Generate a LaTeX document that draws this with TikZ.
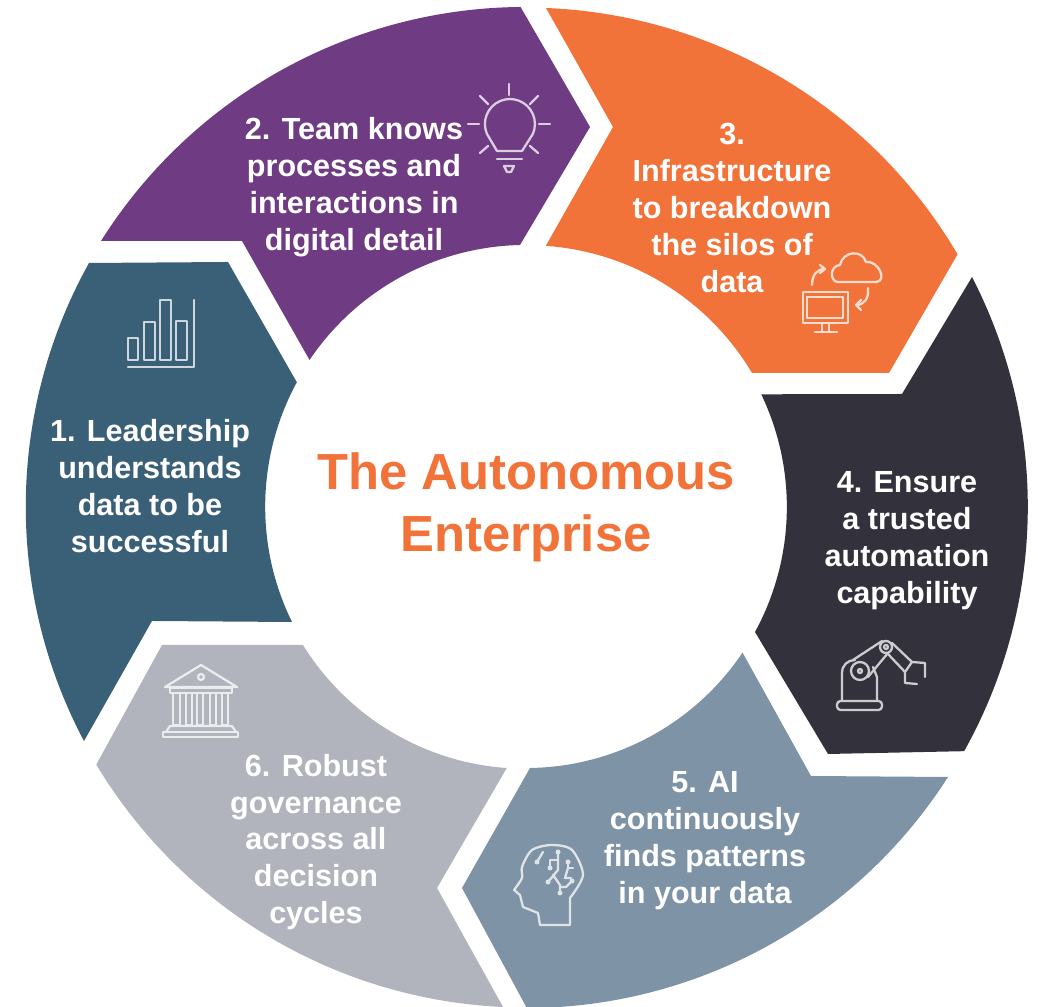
\documentclass[tikz,border=0pt]{standalone}
\usepackage{fontspec}
\setmainfont{Liberation Sans}
\usepackage{tikz}

\definecolor{leadblue}{HTML}{3A6078}
\definecolor{teampurple}{HTML}{6F3B82}
\definecolor{infraorange}{HTML}{F2733A}
\definecolor{trustdark}{HTML}{33323C}
\definecolor{aislate}{HTML}{7E93A5}
\definecolor{govgrey}{HTML}{B1B3BD}

\tikzset{
    segtext/.style={text=white, align=center, font=\fontsize{17.4}{21}\selectfont\bfseries},
    titletext/.style={text=infraorange, align=center, font=\fontsize{28.9}{35.3}\selectfont\bfseries},
    icon/.style={draw=white!75!#1, line width=1.3pt, line join=round, line cap=round},
    dot/.style={fill=white!75!aislate, draw=none}
}

\begin{document}
\begin{tikzpicture}[x=0.02cm,y=0.02cm]
        \useasboundingbox (0,0) rectangle (1038,1007);

        % the six ring segments
        \fill[leadblue] (89,744) arc[start angle=150.9,end angle=207.9,radius=501] -- (152,386) -- (292,385)
            arc[start angle=206.2,end angle=151.5,radius=261] -- (228,745) -- cycle;
        \fill[teampurple] (101,766) arc[start angle=147.8,end angle=90.5,radius=501] -- (590,880) -- (520,762)
            arc[start angle=91.3,end angle=146,radius=261] -- (242,766) -- cycle;
        \fill[infraorange] (546,999) arc[start angle=87.7,end angle=30.5,radius=501] -- (889,634) -- (752,634)
            arc[start angle=30.7,end angle=86,radius=261] -- (613,880) -- cycle;
        \fill[trustdark] (972,730) arc[start angle=27.3,end angle=-29.2,radius=501] -- (828,253) -- (755,375)
            arc[start angle=-28.6,end angle=25.6,radius=261] -- (902,613) -- cycle;
        \fill[aislate] (948,230) arc[start angle=-32.6,end angle=-89.9,radius=501] -- (462,119) -- (530,239)
            arc[start angle=-89.1,end angle=-33.9,radius=261] -- (811,231) -- cycle;
        \fill[govgrey] (503,0) arc[start angle=267.4,end angle=211,radius=501] -- (162,362) -- (303,362)
            arc[start angle=211.75,end angle=266,radius=261] -- (437,119) -- cycle;

        % labels
        \node[titletext] (title) at (526,500) {The Autonomous\\Enterprise};
        \node[segtext] (leadership) at (150,521) {1. Leadership\\understands\\data to be\\successful};
        \node[segtext] (team) at (354,820) {2. Team knows\\processes and\\interactions in\\digital detail};
        \node[segtext] (infra) at (732,799) {3.\\Infrastructure\\to breakdown\\the silos of\\data};
        \node[segtext] (trusted) at (907,466) {4. Ensure\\a trusted\\automation\\capability};
        \node[segtext] (patterns) at (705,166) {5. AI\\continuously\\finds patterns\\in your data};
        \node[segtext] (governance) at (316,165) {6. Robust\\governance\\across all\\decision\\cycles};

        % bars
        \draw[icon=leadblue] (128,647) rectangle (138,669);
        \draw[icon=leadblue] (144,647) rectangle (155,685);
        \draw[icon=leadblue] (160,647) rectangle (171,707);
        \draw[icon=leadblue] (176,647) rectangle (187,686);
        \draw[icon=leadblue] (194,707) -- (194,640) -- (128,640);

        % bulb
        \draw[icon=teampurple] (497,856) -- (487,873) arc[start angle=203.5,end angle=-23.5,radius=25] -- (522,856) -- cycle;
        \draw[icon=teampurple] (509,923) -- (509,912);
        \draw[icon=teampurple] (480,911) -- (488,903);
        \draw[icon=teampurple] (538,911) -- (530,903);
        \draw[icon=teampurple] (468,883) -- (479,883);
        \draw[icon=teampurple] (539,883) -- (550,883);
        \draw[icon=teampurple] (480,854) -- (488,861);
        \draw[icon=teampurple] (538,854) -- (530,861);
        \draw[icon=teampurple] (497,848) -- (522,848);
        \draw[icon=teampurple] (504,841) -- (514,841) -- (511,835) -- (507,835) -- cycle;

        % cloud and monitor
        \draw[icon=infraorange] (803,684) rectangle (848,715);
        \draw[icon=infraorange] (807,689) rectangle (843,710);
        \draw[icon=infraorange] (822,684) -- (822,675);
        \draw[icon=infraorange] (829,684) -- (829,675);
        \draw[icon=infraorange] (815,675) -- (837,675);
        \draw[icon=infraorange] (838,725) .. controls (830,725) and (829,741) .. (840,742)
            .. controls (843,756) and (862,758) .. (866,745)
            .. controls (878,747) and (888,726) .. (876,725) -- cycle;
        \draw[icon=infraorange] (812,722) .. controls (812,732) and (817,738) .. (825,738);
        \draw[icon=infraorange] (820,742) -- (825,738) -- (820,734);
        \draw[icon=infraorange] (868,719) .. controls (869,708) and (864,702) .. (856,702);
        \draw[icon=infraorange] (861,707) -- (856,702) -- (861,697);

        % robot arm
        \draw[icon=trustdark, rounded corners=2] (837,297) rectangle (882,306);
        \draw[icon=trustdark] (842,306) -- (842,334) .. controls (842,342) and (848,347) .. (855,347);
        \draw[icon=trustdark] (877,306) -- (877,330) -- (873,340);
        \draw[icon=trustdark] (860,336) circle (9);
        \draw[icon=trustdark] (860,336) circle (2);
        \draw[icon=trustdark] (886,360) circle (6);
        \draw[icon=trustdark] (886,360) circle (2);
        \draw[icon=trustdark] (853,347) -- (882,366);
        \draw[icon=trustdark] (868,330) -- (888,354);
        \draw[icon=trustdark] (892,364) -- (912,345) -- (925,344) -- (925,330);
        \draw[icon=trustdark] (888,353) -- (905,335) -- (905,324) -- (917,323);
        \draw[icon=trustdark] (912,345) -- (905,335);

        % head
        \draw[icon=aislate] plot[smooth] coordinates {(570,109) (583,132) (572,157) (552,162) (532,157) (522,140) (522,129) (514,117)}
            -- (520,112) -- (523,100) -- (538,94) -- (540,82) -- (570,82) -- cycle;
        \draw[icon=aislate] (537,145) -- (543,155);
        \draw[icon=aislate] (558,155) -- (558,137) -- (548,125);
        \draw[icon=aislate] (558,147) -- (550,147) -- (550,139);
        \draw[icon=aislate] (553,132) -- (560,122) -- (560,114);
        \draw[icon=aislate] (560,120) -- (566,120) -- (572,126);
        \draw[icon=aislate] (568,145) -- (568,139) -- (573,139);
        \draw[icon=aislate] (568,139) -- (565,129) -- (571,129);
        \fill[dot] (537,145) circle (2.5);
        \fill[dot] (558,155) circle (2.5);
        \fill[dot] (550,139) circle (2.5);
        \fill[dot] (548,125) circle (2.5);
        \fill[dot] (560,114) circle (2.5);
        \fill[dot] (572,126) circle (2.5);
        \fill[dot] (568,145) circle (2.5);

        % bank
        \draw[icon=govgrey] (201,342) -- (165,320) -- (237,320) -- cycle;
        \draw[icon=govgrey] (201,330) circle (3);
        \draw[icon=govgrey] (170,314) rectangle (232,319);
        \draw[icon=govgrey] (173,282) rectangle (180,314);
        \draw[icon=govgrey] (186,282) rectangle (192,314);
        \draw[icon=govgrey] (197,282) rectangle (203,314);
        \draw[icon=govgrey] (210,282) rectangle (216,314);
        \draw[icon=govgrey] (222,282) rectangle (228,314);
        \draw[icon=govgrey] (170,281) -- (232,281) -- (236,275);
        \draw[icon=govgrey] (170,281) -- (166,275);
        \draw[icon=govgrey] (163,270) rectangle (238,275);
\end{tikzpicture}
\end{document}
